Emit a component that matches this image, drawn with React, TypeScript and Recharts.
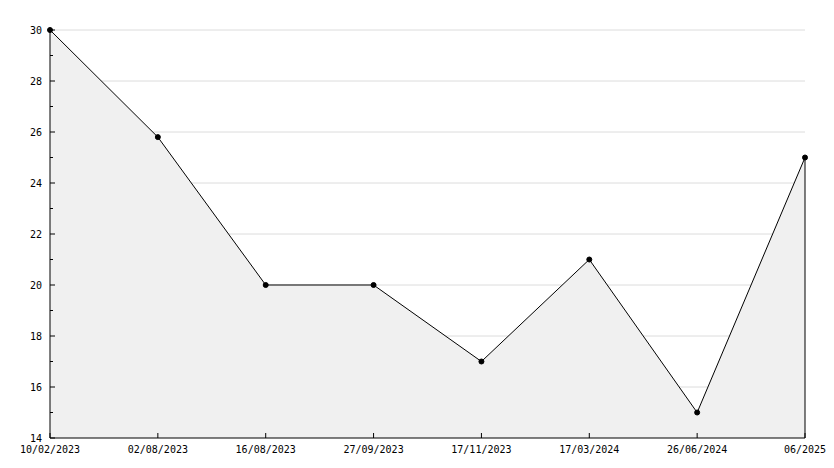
import { AreaChart, Area, XAxis, YAxis, CartesianGrid, ReferenceLine } from "recharts"

const dates = ["10/02/2023", "02/08/2023", "16/08/2023", "27/09/2023", "17/11/2023", "17/03/2024", "26/06/2024", "06/2025"]
const values = [30, 25.8, 20, 20, 17, 21, 15, 25]
const yTicks = [14, 15, 16, 17, 18, 19, 20, 21, 22, 23, 24, 25, 26, 27, 28, 29, 30]
const gridValues = [16, 18, 20, 22, 24, 26, 28, 30]

const data = dates.map((date, i) => ({ date, value: values[i] }))

const LEFT = 50
const BOTTOM = 438
const font = { fontFamily: "DejaVu Sans Mono", fontSize: 10, fill: "#000" }

function YTick({ y, payload }: any) {
  const major = payload.value % 2 === 0
  return (
    <g>
      <line x1={LEFT} x2={LEFT + (major ? 5 : 3)} y1={y} y2={y} stroke="#000" />
      {major && (
        <text x={LEFT - 8} y={y + 4} textAnchor="end" {...font}>
          {payload.value}
        </text>
      )}
    </g>
  )
}

function XTick({ x, payload }: any) {
  return (
    <g>
      <line x1={x} x2={x} y1={BOTTOM} y2={BOTTOM - 5} stroke="#000" />
      <text x={x} y={BOTTOM + 15} textAnchor="middle" {...font}>
        {payload.value}
      </text>
    </g>
  )
}

export default function App() {
  return (
    <div style={{ position: "absolute", left: 0, top: 0 }}>
      <AreaChart width={834} height={468} data={data} margin={{ top: 30, right: 29, bottom: 0, left: 0 }}>
        <CartesianGrid vertical={false} horizontalValues={gridValues} stroke="#dcdcdc" />
        <XAxis dataKey="date" height={30} interval={0} axisLine={{ stroke: "#000" }} tickLine={false} tick={<XTick />} />
        <YAxis
          width={50}
          domain={[14, 30]}
          ticks={yTicks}
          interval={0}
          axisLine={{ stroke: "#000" }}
          tickLine={false}
          tick={<YTick />}
        />
        <Area
          type="linear"
          dataKey="value"
          stroke="#000"
          strokeWidth={1}
          fill="#f0f0f0"
          fillOpacity={1}
          dot={{ r: 2.5, fill: "#000", stroke: "#000", strokeWidth: 1 }}
          activeDot={false}
          isAnimationActive={false}
        />
        <ReferenceLine
          segment={[
            { x: dates[dates.length - 1], y: 14 },
            { x: dates[dates.length - 1], y: values[values.length - 1] },
          ]}
          stroke="#000"
        />
      </AreaChart>
    </div>
  )
}
